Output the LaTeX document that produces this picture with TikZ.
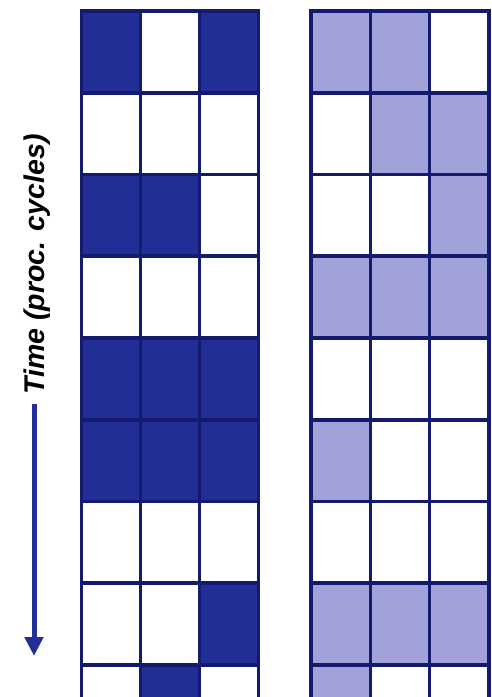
\documentclass[tikz,border=0pt]{standalone}
\usepackage{fontspec}
\setmainfont{Liberation Sans}
\usetikzlibrary{arrows.meta}
\definecolor{gridline}{RGB}{20,26,110}
\definecolor{darkcell}{RGB}{32,46,150}
\definecolor{lightcell}{RGB}{162,162,218}
\tikzset{
  cellline/.style={draw=gridline, line width=3.6pt},
  timelabel/.style={rotate=90, anchor=base, inner sep=0pt, text=black,
    font=\fontsize{28.5}{30}\selectfont\bfseries\itshape},
  timearrow/.style={draw=darkcell, line width=5pt, -{Triangle[length=19pt,width=18pt]}}
}
\begin{document}
\begin{tikzpicture}[x=1pt,y=-1pt]
\useasboundingbox (0,0) rectangle (491,697);
\clip (0,0) rectangle (491,697);
\fill[white] (0,0) rectangle (491,697);
% left grid: D = dark
\def\rowh{81.75}
\foreach \r/\a/\b/\c in {1/1/0/1,2/0/0/0,3/1/1/0,4/0/0/0,5/1/1/1,6/1/1/1,7/0/0/0,8/0/0/1,9/0/1/0}{
  \foreach \col/\v in {1/\a,2/\b,3/\c}{
    \pgfmathsetmacro{\xa}{81.5+(\col-1)*59}
    \pgfmathsetmacro{\ya}{11+(\r-1)*\rowh}
    \ifnum\v=1
      \fill[darkcell] (\xa,\ya) rectangle ++(59,\rowh);
    \fi
    \draw[cellline] (\xa,\ya) rectangle ++(59,\rowh);
  }
}
% right grid: L = light
\foreach \r/\a/\b/\c in {1/1/1/0,2/0/1/1,3/0/0/1,4/1/1/1,5/0/0/0,6/1/0/0,7/0/0/0,8/1/1/1,9/1/0/0}{
  \foreach \col/\v in {1/\a,2/\b,3/\c}{
    \pgfmathsetmacro{\xa}{311+(\col-1)*59.3}
    \pgfmathsetmacro{\ya}{11+(\r-1)*\rowh}
    \ifnum\v=1
      \fill[lightcell] (\xa,\ya) rectangle ++(59.3,\rowh);
    \fi
    \draw[cellline] (\xa,\ya) rectangle ++(59.3,\rowh);
  }
}
% time axis
\node[timelabel] (time) at (45,264.5) {Time (proc. cycles)};
\coordinate (astart) at (34,404);
\coordinate (aend) at (34,656);
\draw[timearrow] (astart) -- (aend);
\end{tikzpicture}
\end{document}
